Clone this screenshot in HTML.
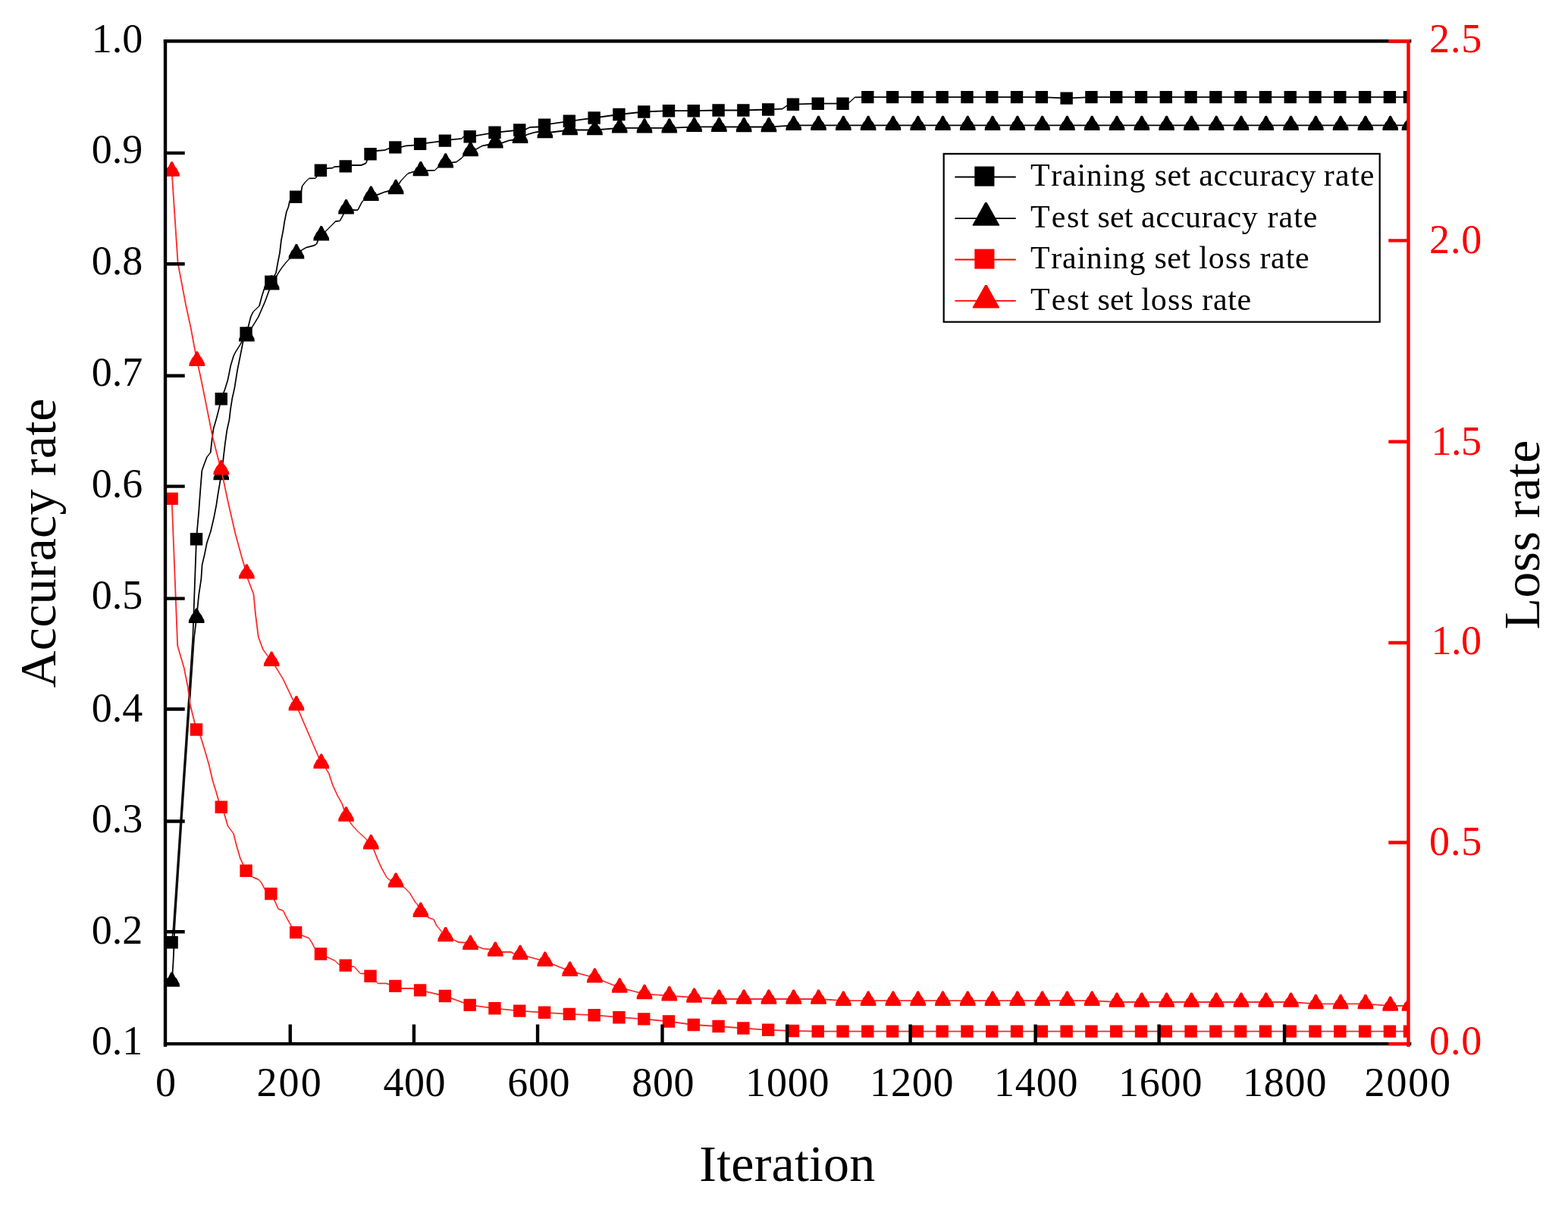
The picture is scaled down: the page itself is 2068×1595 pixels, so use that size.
<!DOCTYPE html>
<html lang="en">
<head>
<meta charset="utf-8">
<title>Accuracy rate and loss rate versus iteration</title>
<style>
html,body{margin:0;padding:0;background:#fff;}
body{width:2068px;height:1595px;overflow:hidden;}
svg{display:block;}
</style>
</head>
<body>
<svg width="2068" height="1595" viewBox="0 0 2068 1595" role="img" aria-label="Accuracy rate and loss rate versus iteration">
<defs><clipPath id="c"><rect x="218" y="54.2" width="1639.5" height="1322.9"/></clipPath></defs>
<rect width="2068" height="1595" fill="#fff"/>
<g clip-path="url(#c)">
<path d="M227.85 1223L229.6 1223L227.47 1243.2L225.72 1243.2zM240.46 1034L242.21 1034L229.6 1223L227.85 1223zM253.5 840L255.25 840L242.21 1034L240.46 1034zM258.11 711.2L259.86 711.2L255.25 840L253.5 840zM261.32 675L263.07 675L259.86 711.2L258.11 711.2zM263.12 650L264.88 650L263.07 675L261.32 675zM265.43 621L267.18 621L264.88 650L263.12 650zM268.23 613L269.98 613L267.18 621L265.43 621zM272.02 603L273.77 603L269.98 613L268.23 613zM276.82 597L278.57 597L273.77 603L272.02 603zM278.93 577.7L280.68 577.7L278.57 597L276.82 597zM280.82 565L282.57 565L280.68 577.7L278.93 577.7zM284.52 552.6L286.27 552.6L282.57 565L280.82 565zM287.73 540L289.48 540L286.27 552.6L284.52 552.6zM290.9 526.3L292.65 526.3L289.48 540L287.73 540zM295.82 513.4L297.57 513.4L292.65 526.3L290.9 526.3zM299.62 501L301.38 501L297.57 513.4L295.82 513.4zM303.43 482L305.18 482L301.38 501L299.62 501zM307.23 469.4L308.98 469.4L305.18 482L303.43 482zM309.73 464.4L311.48 464.4L308.98 469.4L307.23 469.4zM316.02 454.4L317.77 454.4L311.48 464.4L309.73 464.4zM323.69 439.5L325.44 439.5L317.77 454.4L316.02 454.4zM326.62 430.8L328.38 430.8L325.44 439.5L323.69 439.5zM329.82 418L331.57 418L328.38 430.8L326.62 430.8zM332.93 411.6L334.68 411.6L331.57 418L329.82 418zM341.12 403.4L342.88 403.4L334.68 411.6L332.93 411.6zM344.32 391.5L346.07 391.5L342.88 403.4L341.12 403.4zM347.43 381.4L349.18 381.4L346.07 391.5L344.32 391.5zM356.48 371.7L358.23 371.7L349.18 381.4L347.43 381.4zM363.12 360L364.88 360L358.23 371.7L356.48 371.7zM365.62 346L367.38 346L364.88 360L363.12 360zM368.12 333.5L369.88 333.5L367.38 346L365.62 346zM370.02 317L371.77 317L369.88 333.5L368.12 333.5zM372.52 304.6L374.27 304.6L371.77 317L370.02 317zM374.43 292L376.18 292L374.27 304.6L372.52 304.6zM376.93 279.4L378.68 279.4L376.18 292L374.43 292zM379.52 273L381.27 273L378.68 279.4L376.93 279.4zM381.32 264.4L383.07 264.4L381.27 273L379.52 273zM382.2 263.52L390.15 258.93L390.15 260.68L382.2 265.27zM396.43 252.4L398.18 252.4L391.02 259.8L389.27 259.8zM397.73 245.5L399.48 245.5L398.18 252.4L396.43 252.4zM401.52 240.5L403.27 240.5L399.48 245.5L397.73 245.5zM406.52 235.4L408.27 235.4L403.27 240.5L401.52 240.5zM407.4 234.53L416.2 234.32L416.2 236.07L407.4 236.28zM422.06 224.7L423.81 224.7L417.07 235.2L415.32 235.2zM422.94 223.82L431 221.32L431 223.07L422.94 225.57zM431 221.32L438.8 220.72L438.8 222.47L431 223.07zM438.8 220.72L440.7 219.22L440.7 220.97L438.8 222.47zM440.7 219.22L448.2 218.82L448.2 220.57L440.7 220.97zM448.2 218.82L455.73 218.53L455.73 220.28L448.2 220.57zM455.73 218.53L463 217.12L463 218.88L455.73 220.28zM463 217.12L476.3 217.12L476.3 218.88L463 218.88zM476.3 217.12L482.6 214.62L482.6 216.38L476.3 218.88zM483.62 210.5L485.38 210.5L483.48 215.5L481.73 215.5zM487.64 203.2L489.39 203.2L485.38 210.5L483.62 210.5zM488.52 202.32L495.8 198.12L495.8 199.88L488.52 204.07zM495.8 198.12L507.1 197.32L507.1 199.07L495.8 199.88zM507.1 197.32L514.1 194.53L514.1 196.28L507.1 199.07zM514.1 194.53L521.31 193.53L521.31 195.28L514.1 196.28zM521.31 193.53L528.5 193.32L528.5 195.07L521.31 195.28zM528.5 193.32L535.4 191.43L535.4 193.18L528.5 195.07zM535.4 191.43L546.1 190.82L546.1 192.57L535.4 193.18zM546.1 190.82L554.1 189.03L554.1 190.78L546.1 192.57zM554.1 189.03L586.89 184.72L586.89 186.47L554.1 190.78zM586.89 184.72L596 183.22L596 184.97L586.89 186.47zM596 183.22L609 182.03L609 183.78L596 184.97zM610.33 180.3L612.08 180.3L609.88 182.9L608.12 182.9zM611.2 179.43L619.68 179.43L619.68 181.18L611.2 181.18zM619.68 179.43L652.47 173.93L652.47 175.68L619.68 181.18zM652.47 173.93L685.26 170.62L685.26 172.38L652.47 175.68zM685.26 170.62L693.8 169.43L693.8 171.18L685.26 172.38zM693.8 169.43L698.9 166.93L698.9 168.68L693.8 171.18zM698.9 166.93L709.2 166.62L709.2 168.38L698.9 168.68zM709.2 166.62L718.05 163.82L718.05 165.57L709.2 168.38zM718.05 163.82L750.84 158.93L750.84 160.68L718.05 165.57zM750.84 158.93L783.63 154.62L783.63 156.38L750.84 160.68zM783.63 154.62L816.42 150.12L816.42 151.88L783.63 156.38zM816.42 150.12L849.21 146.62L849.21 148.38L816.42 151.88zM849.21 146.62L882 145.32L882 147.07L849.21 148.38zM882 145.32L914.79 145.32L914.79 147.07L882 147.07zM914.79 145.32L947.58 144.62L947.58 146.38L914.79 147.07zM947.58 144.62L980.37 144.62L980.37 146.38L947.58 146.38zM980.37 144.62L1013.16 143.62L1013.16 145.38L980.37 146.38zM1013.16 143.62L1031.9 142.82L1031.9 144.57L1013.16 145.38zM1031.9 142.82L1038.2 138.32L1038.2 140.07L1031.9 144.57zM1038.2 138.32L1045.95 136.82L1045.95 138.57L1038.2 140.07zM1045.95 136.82L1078.74 135.82L1078.74 137.57L1045.95 138.57zM1078.74 135.82L1111.53 135.82L1111.53 137.57L1078.74 137.57zM1111.53 135.82L1119.9 134.53L1119.9 136.28L1111.53 137.57zM1119.9 134.53L1127.5 127.53L1127.5 129.28L1119.9 136.28zM1127.5 127.53L1144.32 127.22L1144.32 128.97L1127.5 129.28zM1144.32 127.22L1177.11 127.22L1177.11 128.97L1144.32 128.97zM1177.11 127.22L1209.9 127.22L1209.9 128.97L1177.11 128.97zM1209.9 127.22L1242.69 127.22L1242.69 128.97L1209.9 128.97zM1242.69 127.22L1275.48 127.22L1275.48 128.97L1242.69 128.97zM1275.48 127.22L1308.27 127.22L1308.27 128.97L1275.48 128.97zM1308.27 127.22L1341.06 127.22L1341.06 128.97L1308.27 128.97zM1341.06 127.22L1373.85 127.22L1373.85 128.97L1341.06 128.97zM1373.85 127.22L1406.64 128.72L1406.64 130.47L1373.85 128.97zM1406.64 128.72L1439.43 127.22L1439.43 128.97L1406.64 130.47zM1439.43 127.22L1472.22 127.22L1472.22 128.97L1439.43 128.97zM1472.22 127.22L1505.01 127.22L1505.01 128.97L1472.22 128.97zM1505.01 127.22L1537.8 127.22L1537.8 128.97L1505.01 128.97zM1537.8 127.22L1570.59 127.22L1570.59 128.97L1537.8 128.97zM1570.59 127.22L1603.38 127.22L1603.38 128.97L1570.59 128.97zM1603.38 127.22L1636.17 127.22L1636.17 128.97L1603.38 128.97zM1636.17 127.22L1668.96 127.22L1668.96 128.97L1636.17 128.97zM1668.96 127.22L1701.75 127.22L1701.75 128.97L1668.96 128.97zM1701.75 127.22L1734.54 127.22L1734.54 128.97L1701.75 128.97zM1734.54 127.22L1767.33 127.22L1767.33 128.97L1734.54 128.97zM1767.33 127.22L1800.12 127.22L1800.12 128.97L1767.33 128.97zM1800.12 127.22L1832.91 127.22L1832.91 128.97L1800.12 128.97zM1832.91 127.22L1859 127.22L1859 128.97L1832.91 128.97z" fill="#000"/>
<path d="M218.4 1235h16.4v16.4h-16.4zM250.79 703h16.4v16.4h-16.4zM283.58 518.1h16.4v16.4h-16.4zM316.37 431.3h16.4v16.4h-16.4zM349.16 363.5h16.4v16.4h-16.4zM381.95 251.6h16.4v16.4h-16.4zM414.74 216.5h16.4v16.4h-16.4zM447.53 211.2h16.4v16.4h-16.4zM480.32 195h16.4v16.4h-16.4zM513.11 186.2h16.4v16.4h-16.4zM545.9 181.7h16.4v16.4h-16.4zM578.69 177.4h16.4v16.4h-16.4zM611.48 172.1h16.4v16.4h-16.4zM644.27 166.6h16.4v16.4h-16.4zM677.06 163.3h16.4v16.4h-16.4zM709.85 156.5h16.4v16.4h-16.4zM742.64 151.6h16.4v16.4h-16.4zM775.43 147.3h16.4v16.4h-16.4zM808.22 142.8h16.4v16.4h-16.4zM841.01 139.3h16.4v16.4h-16.4zM873.8 138h16.4v16.4h-16.4zM906.59 138h16.4v16.4h-16.4zM939.38 137.3h16.4v16.4h-16.4zM972.17 137.3h16.4v16.4h-16.4zM1004.96 136.3h16.4v16.4h-16.4zM1037.75 129.5h16.4v16.4h-16.4zM1070.54 128.5h16.4v16.4h-16.4zM1103.33 128.5h16.4v16.4h-16.4zM1136.12 119.9h16.4v16.4h-16.4zM1168.91 119.9h16.4v16.4h-16.4zM1201.7 119.9h16.4v16.4h-16.4zM1234.49 119.9h16.4v16.4h-16.4zM1267.28 119.9h16.4v16.4h-16.4zM1300.07 119.9h16.4v16.4h-16.4zM1332.86 119.9h16.4v16.4h-16.4zM1365.65 119.9h16.4v16.4h-16.4zM1398.44 121.4h16.4v16.4h-16.4zM1431.23 119.9h16.4v16.4h-16.4zM1464.02 119.9h16.4v16.4h-16.4zM1496.81 119.9h16.4v16.4h-16.4zM1529.6 119.9h16.4v16.4h-16.4zM1562.39 119.9h16.4v16.4h-16.4zM1595.18 119.9h16.4v16.4h-16.4zM1627.97 119.9h16.4v16.4h-16.4zM1660.76 119.9h16.4v16.4h-16.4zM1693.55 119.9h16.4v16.4h-16.4zM1726.34 119.9h16.4v16.4h-16.4zM1759.13 119.9h16.4v16.4h-16.4zM1791.92 119.9h16.4v16.4h-16.4zM1824.71 119.9h16.4v16.4h-16.4zM1850.8 119.9h16.4v16.4h-16.4z" fill="#000"/>
<path d="M226.72 1283L228.47 1283L227.47 1295L225.72 1295zM227.72 1267L229.47 1267L228.47 1283L226.72 1283zM228.62 1247L230.38 1247L229.47 1267L227.72 1267zM229.43 1223L231.18 1223L230.38 1247L228.62 1247zM242.03 1034L243.78 1034L231.18 1223L229.43 1223zM255.07 842L256.82 842L243.78 1034L242.03 1034zM258.31 815.2L260.06 815.2L256.82 842L255.07 842zM261.32 785L263.07 785L260.06 815.2L258.31 815.2zM264.43 764L266.18 764L263.07 785L261.32 785zM265.73 745L267.48 745L266.18 764L264.43 764zM268.82 732L270.57 732L267.48 745L265.73 745zM272.02 716L273.77 716L270.57 732L268.82 732zM277.02 701L278.77 701L273.77 716L272.02 716zM281.43 682L283.18 682L278.77 701L277.02 701zM284.52 666L286.27 666L283.18 682L281.43 682zM286.43 653L288.18 653L286.27 666L284.52 666zM290.9 626.4L292.65 626.4L288.18 653L286.43 653zM293.32 608L295.07 608L292.65 626.4L290.9 626.4zM295.82 586.5L297.57 586.5L295.07 608L293.32 608zM298.43 567.7L300.18 567.7L297.57 586.5L295.82 586.5zM301.52 553.8L303.27 553.8L300.18 567.7L298.43 567.7zM303.12 540L304.88 540L303.27 553.8L301.52 553.8zM305.32 526L307.07 526L304.88 540L303.12 540zM308.43 512L310.18 512L307.07 526L305.32 526zM312.23 488.3L313.98 488.3L310.18 512L308.43 512zM316.02 469.4L317.77 469.4L313.98 488.3L312.23 488.3zM319.73 450.6L321.48 450.6L317.77 469.4L316.02 469.4zM324.49 443.6L326.24 443.6L321.48 450.6L319.73 450.6zM332.32 430.5L334.07 430.5L326.24 443.6L324.49 443.6zM339.93 417.9L341.68 417.9L334.07 430.5L332.32 430.5zM344.93 406.6L346.68 406.6L341.68 417.9L339.93 417.9zM348.73 397.8L350.48 397.8L346.68 406.6L344.93 406.6zM353.73 384L355.48 384L350.48 397.8L348.73 397.8zM357.28 375.7L359.03 375.7L355.48 384L353.73 384zM366.32 360L368.07 360L359.03 375.7L357.28 375.7zM371.32 352.4L373.07 352.4L368.07 360L366.32 360zM377.62 344.8L379.38 344.8L373.07 352.4L371.32 352.4zM381.32 341L383.07 341L379.38 344.8L377.62 344.8zM382.2 340.12L390.95 333.73L390.95 335.48L382.2 341.88zM390.95 333.73L397.3 329.52L397.3 331.27L390.95 335.48zM397.3 329.52L403.6 325.73L403.6 327.48L397.3 331.27zM403.6 325.73L413.7 323.12L413.7 324.88L403.6 327.48zM413.7 323.12L417.4 321.32L417.4 323.07L413.7 324.88zM418.43 317.2L420.18 317.2L418.27 322.2L416.52 322.2zM422.86 310.7L424.61 310.7L420.18 317.2L418.43 317.2zM423.74 309.82L430 303.73L430 305.48L423.74 311.57zM430 303.73L436.3 297.43L436.3 299.18L430 305.48zM436.3 297.43L442.6 291.12L442.6 292.88L436.3 299.18zM442.6 291.12L448.2 290.52L448.2 292.27L442.6 292.88zM450.52 285.7L452.27 285.7L449.07 291.4L447.32 291.4zM455.65 275.7L457.4 275.7L452.27 285.7L450.52 285.7zM456.53 274.82L467.5 276.32L467.5 278.07L456.53 276.57zM467.5 276.32L472 276.12L472 277.88L467.5 278.07zM475.43 268.4L477.18 268.4L472.88 277L471.12 277zM478.02 264.6L479.77 264.6L477.18 268.4L475.43 268.4zM478.9 263.73L489.32 257.32L489.32 259.07L478.9 265.48zM489.32 257.32L497.7 256.12L497.7 257.88L489.32 259.07zM497.7 256.12L507.1 252.43L507.1 254.18L497.7 257.88zM507.1 252.43L512.8 251.12L512.8 252.88L507.1 254.18zM512.8 251.12L522.11 248.53L522.11 250.28L512.8 252.88zM527.62 238.8L529.38 238.8L522.98 249.4L521.23 249.4zM537.12 228.8L538.88 228.8L529.38 238.8L527.62 238.8zM538 227.93L546.8 225.32L546.8 227.07L538 229.68zM546.8 225.32L554.9 224.62L554.9 226.38L546.8 227.07zM554.9 224.62L563.1 224.12L563.1 225.88L554.9 226.38zM563.1 224.12L573.8 223.72L573.8 225.47L563.1 225.88zM576.73 220.6L578.48 220.6L574.67 224.6L572.92 224.6zM577.6 219.72L587.69 213.93L587.69 215.68L577.6 221.47zM587.69 213.93L597 213.43L597 215.18L587.69 215.68zM597 213.43L602 212.82L602 214.57L597 215.18zM602 212.82L609.6 207.12L609.6 208.88L602 214.57zM611.23 204.2L612.98 204.2L610.48 208L608.73 208zM612.1 203.32L620.48 198.62L620.48 200.38L612.1 205.07zM620.48 198.62L628.5 195.82L628.5 197.57L620.48 200.38zM628.5 195.82L636 191.43L636 193.18L628.5 197.57zM636 191.43L643.6 190.12L643.6 191.88L636 193.18zM643.6 190.12L653.27 187.72L653.27 189.47L643.6 191.88zM653.27 187.72L662.4 187.62L662.4 189.38L653.27 189.47zM662.4 187.62L671.2 184.53L671.2 186.28L662.4 189.38zM671.2 184.53L676.2 183.82L676.2 185.57L671.2 186.28zM676.2 183.82L686.06 181.22L686.06 182.97L676.2 185.57zM686.06 181.22L696.4 176.32L696.4 178.07L686.06 182.97zM696.4 176.32L705.2 173.82L705.2 175.57L696.4 178.07zM705.2 173.82L709.6 173.12L709.6 174.88L705.2 175.57zM709.6 173.12L718.85 174.62L718.85 176.38L709.6 174.88zM718.85 174.62L751.64 170.62L751.64 172.38L718.85 176.38zM751.64 170.62L784.43 170.62L784.43 172.38L751.64 172.38zM784.43 170.62L817.22 167.93L817.22 169.68L784.43 172.38zM817.22 167.93L850.01 167.93L850.01 169.68L817.22 169.68zM850.01 167.93L882.8 167.93L882.8 169.68L850.01 169.68zM882.8 167.93L915.59 166.43L915.59 168.18L882.8 169.68zM915.59 166.43L948.38 166.43L948.38 168.18L915.59 168.18zM948.38 166.43L981.17 166.62L981.17 168.38L948.38 168.18zM981.17 166.62L1013.96 166.62L1013.96 168.38L981.17 168.38zM1013.96 166.62L1046.75 164.43L1046.75 166.18L1013.96 168.38zM1046.75 164.43L1079.54 164.43L1079.54 166.18L1046.75 166.18zM1079.54 164.43L1112.33 164.43L1112.33 166.18L1079.54 166.18zM1112.33 164.43L1145.12 164.43L1145.12 166.18L1112.33 166.18zM1145.12 164.43L1177.91 164.43L1177.91 166.18L1145.12 166.18zM1177.91 164.43L1210.7 164.43L1210.7 166.18L1177.91 166.18zM1210.7 164.43L1243.49 164.43L1243.49 166.18L1210.7 166.18zM1243.49 164.43L1276.28 164.43L1276.28 166.18L1243.49 166.18zM1276.28 164.43L1309.07 164.43L1309.07 166.18L1276.28 166.18zM1309.07 164.43L1341.86 164.43L1341.86 166.18L1309.07 166.18zM1341.86 164.43L1374.65 164.43L1374.65 166.18L1341.86 166.18zM1374.65 164.43L1407.44 164.43L1407.44 166.18L1374.65 166.18zM1407.44 164.43L1440.23 164.43L1440.23 166.18L1407.44 166.18zM1440.23 164.43L1473.02 164.43L1473.02 166.18L1440.23 166.18zM1473.02 164.43L1505.81 164.43L1505.81 166.18L1473.02 166.18zM1505.81 164.43L1538.6 164.43L1538.6 166.18L1505.81 166.18zM1538.6 164.43L1571.39 164.43L1571.39 166.18L1538.6 166.18zM1571.39 164.43L1604.18 164.43L1604.18 166.18L1571.39 166.18zM1604.18 164.43L1636.97 164.43L1636.97 166.18L1604.18 166.18zM1636.97 164.43L1669.76 164.43L1669.76 166.18L1636.97 166.18zM1669.76 164.43L1702.55 164.43L1702.55 166.18L1669.76 166.18zM1702.55 164.43L1735.34 164.43L1735.34 166.18L1702.55 166.18zM1735.34 164.43L1768.13 164.43L1768.13 166.18L1735.34 166.18zM1768.13 164.43L1800.92 164.43L1800.92 166.18L1768.13 166.18zM1800.92 164.43L1833.71 164.43L1833.71 166.18L1800.92 166.18zM1833.71 164.43L1859 164.43L1859 166.18L1833.71 166.18z" fill="#000"/>
<path d="M225.5 1282.4L227.7 1282.4L228.9 1284.6L231 1288.9L233.1 1291.1L235.2 1295.3L236.7 1297.8L237 1301.8L216.2 1301.8L216.5 1297.8L218 1295.3L220.1 1291.1L222.2 1288.9L224.3 1284.6zM258.09 802.6L260.29 802.6L261.49 804.8L263.59 809.1L265.69 811.3L267.79 815.5L269.29 818L269.59 822L248.79 822L249.09 818L250.59 815.5L252.69 811.3L254.79 809.1L256.89 804.8zM290.68 613.8L292.88 613.8L294.08 616L296.18 620.3L298.28 622.5L300.38 626.7L301.88 629.2L302.18 633.2L281.38 633.2L281.68 629.2L283.18 626.7L285.28 622.5L287.38 620.3L289.48 616zM324.27 431L326.47 431L327.67 433.2L329.77 437.5L331.87 439.7L333.97 443.9L335.47 446.4L335.77 450.4L314.97 450.4L315.27 446.4L316.77 443.9L318.87 439.7L320.97 437.5L323.07 433.2zM357.06 363.1L359.26 363.1L360.46 365.3L362.56 369.6L364.66 371.8L366.76 376L368.26 378.5L368.56 382.5L347.76 382.5L348.06 378.5L349.56 376L351.66 371.8L353.76 369.6L355.86 365.3zM389.85 322L392.05 322L393.25 324.2L395.35 328.5L397.45 330.7L399.55 334.9L401.05 337.4L401.35 341.4L380.55 341.4L380.85 337.4L382.35 334.9L384.45 330.7L386.55 328.5L388.65 324.2zM422.64 298.1L424.84 298.1L426.04 300.3L428.14 304.6L430.24 306.8L432.34 311L433.84 313.5L434.14 317.5L413.34 317.5L413.64 313.5L415.14 311L417.24 306.8L419.34 304.6L421.44 300.3zM455.43 263.1L457.63 263.1L458.83 265.3L460.93 269.6L463.03 271.8L465.13 276L466.63 278.5L466.93 282.5L446.13 282.5L446.43 278.5L447.93 276L450.03 271.8L452.13 269.6L454.23 265.3zM488.22 245.6L490.42 245.6L491.62 247.8L493.72 252.1L495.82 254.3L497.92 258.5L499.42 261L499.72 265L478.92 265L479.22 261L480.72 258.5L482.82 254.3L484.92 252.1L487.02 247.8zM521.01 236.8L523.21 236.8L524.41 239L526.51 243.3L528.61 245.5L530.71 249.7L532.21 252.2L532.51 256.2L511.71 256.2L512.01 252.2L513.51 249.7L515.61 245.5L517.71 243.3L519.81 239zM553.8 212.9L556 212.9L557.2 215.1L559.3 219.4L561.4 221.6L563.5 225.8L565 228.3L565.3 232.3L544.5 232.3L544.8 228.3L546.3 225.8L548.4 221.6L550.5 219.4L552.6 215.1zM586.59 202.2L588.79 202.2L589.99 204.4L592.09 208.7L594.19 210.9L596.29 215.1L597.79 217.6L598.09 221.6L577.29 221.6L577.59 217.6L579.09 215.1L581.19 210.9L583.29 208.7L585.39 204.4zM619.38 186.9L621.58 186.9L622.78 189.1L624.88 193.4L626.98 195.6L629.08 199.8L630.58 202.3L630.88 206.3L610.08 206.3L610.38 202.3L611.88 199.8L613.98 195.6L616.08 193.4L618.18 189.1zM652.17 176L654.37 176L655.57 178.2L657.67 182.5L659.77 184.7L661.87 188.9L663.37 191.4L663.67 195.4L642.87 195.4L643.17 191.4L644.67 188.9L646.77 184.7L648.87 182.5L650.97 178.2zM684.96 169.5L687.16 169.5L688.36 171.7L690.46 176L692.56 178.2L694.66 182.4L696.16 184.9L696.46 188.9L675.66 188.9L675.96 184.9L677.46 182.4L679.56 178.2L681.66 176L683.76 171.7zM717.75 162.9L719.95 162.9L721.15 165.1L723.25 169.4L725.35 171.6L727.45 175.8L728.95 178.3L729.25 182.3L708.45 182.3L708.75 178.3L710.25 175.8L712.35 171.6L714.45 169.4L716.55 165.1zM750.54 158.9L752.74 158.9L753.94 161.1L756.04 165.4L758.14 167.6L760.24 171.8L761.74 174.3L762.04 178.3L741.24 178.3L741.54 174.3L743.04 171.8L745.14 167.6L747.24 165.4L749.34 161.1zM783.33 158.9L785.53 158.9L786.73 161.1L788.83 165.4L790.93 167.6L793.03 171.8L794.53 174.3L794.83 178.3L774.03 178.3L774.33 174.3L775.83 171.8L777.93 167.6L780.03 165.4L782.13 161.1zM816.12 156.2L818.32 156.2L819.52 158.4L821.62 162.7L823.72 164.9L825.82 169.1L827.32 171.6L827.62 175.6L806.82 175.6L807.12 171.6L808.62 169.1L810.72 164.9L812.82 162.7L814.92 158.4zM848.91 156.2L851.11 156.2L852.31 158.4L854.41 162.7L856.51 164.9L858.61 169.1L860.11 171.6L860.41 175.6L839.61 175.6L839.91 171.6L841.41 169.1L843.51 164.9L845.61 162.7L847.71 158.4zM881.7 156.2L883.9 156.2L885.1 158.4L887.2 162.7L889.3 164.9L891.4 169.1L892.9 171.6L893.2 175.6L872.4 175.6L872.7 171.6L874.2 169.1L876.3 164.9L878.4 162.7L880.5 158.4zM914.49 154.7L916.69 154.7L917.89 156.9L919.99 161.2L922.09 163.4L924.19 167.6L925.69 170.1L925.99 174.1L905.19 174.1L905.49 170.1L906.99 167.6L909.09 163.4L911.19 161.2L913.29 156.9zM947.28 154.7L949.48 154.7L950.68 156.9L952.78 161.2L954.88 163.4L956.98 167.6L958.48 170.1L958.78 174.1L937.98 174.1L938.28 170.1L939.78 167.6L941.88 163.4L943.98 161.2L946.08 156.9zM980.07 154.9L982.27 154.9L983.47 157.1L985.57 161.4L987.67 163.6L989.77 167.8L991.27 170.3L991.57 174.3L970.77 174.3L971.07 170.3L972.57 167.8L974.67 163.6L976.77 161.4L978.87 157.1zM1012.86 154.9L1015.06 154.9L1016.26 157.1L1018.36 161.4L1020.46 163.6L1022.56 167.8L1024.06 170.3L1024.36 174.3L1003.56 174.3L1003.86 170.3L1005.36 167.8L1007.46 163.6L1009.56 161.4L1011.66 157.1zM1045.65 152.7L1047.85 152.7L1049.05 154.9L1051.15 159.2L1053.25 161.4L1055.35 165.6L1056.85 168.1L1057.15 172.1L1036.35 172.1L1036.65 168.1L1038.15 165.6L1040.25 161.4L1042.35 159.2L1044.45 154.9zM1078.44 152.7L1080.64 152.7L1081.84 154.9L1083.94 159.2L1086.04 161.4L1088.14 165.6L1089.64 168.1L1089.94 172.1L1069.14 172.1L1069.44 168.1L1070.94 165.6L1073.04 161.4L1075.14 159.2L1077.24 154.9zM1111.23 152.7L1113.43 152.7L1114.63 154.9L1116.73 159.2L1118.83 161.4L1120.93 165.6L1122.43 168.1L1122.73 172.1L1101.93 172.1L1102.23 168.1L1103.73 165.6L1105.83 161.4L1107.93 159.2L1110.03 154.9zM1144.02 152.7L1146.22 152.7L1147.42 154.9L1149.52 159.2L1151.62 161.4L1153.72 165.6L1155.22 168.1L1155.52 172.1L1134.72 172.1L1135.02 168.1L1136.52 165.6L1138.62 161.4L1140.72 159.2L1142.82 154.9zM1176.81 152.7L1179.01 152.7L1180.21 154.9L1182.31 159.2L1184.41 161.4L1186.51 165.6L1188.01 168.1L1188.31 172.1L1167.51 172.1L1167.81 168.1L1169.31 165.6L1171.41 161.4L1173.51 159.2L1175.61 154.9zM1209.6 152.7L1211.8 152.7L1213 154.9L1215.1 159.2L1217.2 161.4L1219.3 165.6L1220.8 168.1L1221.1 172.1L1200.3 172.1L1200.6 168.1L1202.1 165.6L1204.2 161.4L1206.3 159.2L1208.4 154.9zM1242.39 152.7L1244.59 152.7L1245.79 154.9L1247.89 159.2L1249.99 161.4L1252.09 165.6L1253.59 168.1L1253.89 172.1L1233.09 172.1L1233.39 168.1L1234.89 165.6L1236.99 161.4L1239.09 159.2L1241.19 154.9zM1275.18 152.7L1277.38 152.7L1278.58 154.9L1280.68 159.2L1282.78 161.4L1284.88 165.6L1286.38 168.1L1286.68 172.1L1265.88 172.1L1266.18 168.1L1267.68 165.6L1269.78 161.4L1271.88 159.2L1273.98 154.9zM1307.97 152.7L1310.17 152.7L1311.37 154.9L1313.47 159.2L1315.57 161.4L1317.67 165.6L1319.17 168.1L1319.47 172.1L1298.67 172.1L1298.97 168.1L1300.47 165.6L1302.57 161.4L1304.67 159.2L1306.77 154.9zM1340.76 152.7L1342.96 152.7L1344.16 154.9L1346.26 159.2L1348.36 161.4L1350.46 165.6L1351.96 168.1L1352.26 172.1L1331.46 172.1L1331.76 168.1L1333.26 165.6L1335.36 161.4L1337.46 159.2L1339.56 154.9zM1373.55 152.7L1375.75 152.7L1376.95 154.9L1379.05 159.2L1381.15 161.4L1383.25 165.6L1384.75 168.1L1385.05 172.1L1364.25 172.1L1364.55 168.1L1366.05 165.6L1368.15 161.4L1370.25 159.2L1372.35 154.9zM1406.34 152.7L1408.54 152.7L1409.74 154.9L1411.84 159.2L1413.94 161.4L1416.04 165.6L1417.54 168.1L1417.84 172.1L1397.04 172.1L1397.34 168.1L1398.84 165.6L1400.94 161.4L1403.04 159.2L1405.14 154.9zM1439.13 152.7L1441.33 152.7L1442.53 154.9L1444.63 159.2L1446.73 161.4L1448.83 165.6L1450.33 168.1L1450.63 172.1L1429.83 172.1L1430.13 168.1L1431.63 165.6L1433.73 161.4L1435.83 159.2L1437.93 154.9zM1471.92 152.7L1474.12 152.7L1475.32 154.9L1477.42 159.2L1479.52 161.4L1481.62 165.6L1483.12 168.1L1483.42 172.1L1462.62 172.1L1462.92 168.1L1464.42 165.6L1466.52 161.4L1468.62 159.2L1470.72 154.9zM1504.71 152.7L1506.91 152.7L1508.11 154.9L1510.21 159.2L1512.31 161.4L1514.41 165.6L1515.91 168.1L1516.21 172.1L1495.41 172.1L1495.71 168.1L1497.21 165.6L1499.31 161.4L1501.41 159.2L1503.51 154.9zM1537.5 152.7L1539.7 152.7L1540.9 154.9L1543 159.2L1545.1 161.4L1547.2 165.6L1548.7 168.1L1549 172.1L1528.2 172.1L1528.5 168.1L1530 165.6L1532.1 161.4L1534.2 159.2L1536.3 154.9zM1570.29 152.7L1572.49 152.7L1573.69 154.9L1575.79 159.2L1577.89 161.4L1579.99 165.6L1581.49 168.1L1581.79 172.1L1560.99 172.1L1561.29 168.1L1562.79 165.6L1564.89 161.4L1566.99 159.2L1569.09 154.9zM1603.08 152.7L1605.28 152.7L1606.48 154.9L1608.58 159.2L1610.68 161.4L1612.78 165.6L1614.28 168.1L1614.58 172.1L1593.78 172.1L1594.08 168.1L1595.58 165.6L1597.68 161.4L1599.78 159.2L1601.88 154.9zM1635.87 152.7L1638.07 152.7L1639.27 154.9L1641.37 159.2L1643.47 161.4L1645.57 165.6L1647.07 168.1L1647.37 172.1L1626.57 172.1L1626.87 168.1L1628.37 165.6L1630.47 161.4L1632.57 159.2L1634.67 154.9zM1668.66 152.7L1670.86 152.7L1672.06 154.9L1674.16 159.2L1676.26 161.4L1678.36 165.6L1679.86 168.1L1680.16 172.1L1659.36 172.1L1659.66 168.1L1661.16 165.6L1663.26 161.4L1665.36 159.2L1667.46 154.9zM1701.45 152.7L1703.65 152.7L1704.85 154.9L1706.95 159.2L1709.05 161.4L1711.15 165.6L1712.65 168.1L1712.95 172.1L1692.15 172.1L1692.45 168.1L1693.95 165.6L1696.05 161.4L1698.15 159.2L1700.25 154.9zM1734.24 152.7L1736.44 152.7L1737.64 154.9L1739.74 159.2L1741.84 161.4L1743.94 165.6L1745.44 168.1L1745.74 172.1L1724.94 172.1L1725.24 168.1L1726.74 165.6L1728.84 161.4L1730.94 159.2L1733.04 154.9zM1767.03 152.7L1769.23 152.7L1770.43 154.9L1772.53 159.2L1774.63 161.4L1776.73 165.6L1778.23 168.1L1778.53 172.1L1757.73 172.1L1758.03 168.1L1759.53 165.6L1761.63 161.4L1763.73 159.2L1765.83 154.9zM1799.82 152.7L1802.02 152.7L1803.22 154.9L1805.32 159.2L1807.42 161.4L1809.52 165.6L1811.02 168.1L1811.32 172.1L1790.52 172.1L1790.82 168.1L1792.32 165.6L1794.42 161.4L1796.52 159.2L1798.62 154.9zM1832.61 152.7L1834.81 152.7L1836.01 154.9L1838.11 159.2L1840.21 161.4L1842.31 165.6L1843.81 168.1L1844.11 172.1L1823.31 172.1L1823.61 168.1L1825.11 165.6L1827.21 161.4L1829.31 159.2L1831.41 154.9zM1857.9 152.7L1860.1 152.7L1861.3 154.9L1863.4 159.2L1865.5 161.4L1867.6 165.6L1869.1 168.1L1869.4 172.1L1848.6 172.1L1848.9 168.1L1850.4 165.6L1852.5 161.4L1854.6 159.2L1856.7 154.9z" fill="#000"/>
<path d="M225.67 657.9L227.52 657.9L235.12 852L233.27 852zM233.27 852L235.12 852L243.62 881L241.77 881zM241.77 881L243.62 881L248.62 906L246.77 906zM246.77 906L248.62 906L251.83 930L249.97 930zM249.97 930L251.83 930L259.91 962.5L258.06 962.5zM258.06 962.5L259.91 962.5L264.93 970L263.07 970zM263.07 970L264.93 970L271.23 990.4L269.38 990.4zM269.38 990.4L271.23 990.4L276.32 1008L274.47 1008zM274.47 1008L276.32 1008L281.32 1029.4L279.47 1029.4zM279.47 1029.4L281.32 1029.4L286.32 1045.7L284.47 1045.7zM284.47 1045.7L286.32 1045.7L289.53 1057.3L287.68 1057.3zM287.68 1057.3L289.53 1057.3L292.7 1064.7L290.85 1064.7zM290.85 1064.7L292.7 1064.7L296.43 1072.8L294.57 1072.8zM294.57 1072.8L296.43 1072.8L301.43 1089.7L299.57 1089.7zM299.57 1089.7L301.43 1089.7L308.93 1099.8L307.07 1099.8zM307.07 1099.8L308.93 1099.8L312.73 1115L310.88 1115zM310.88 1115L312.73 1115L317.82 1132.6L315.97 1132.6zM315.97 1132.6L317.82 1132.6L325.49 1148.7L323.64 1148.7zM323.64 1148.7L325.49 1148.7L333.62 1157L331.77 1157zM332.7 1156.08L341.4 1159.58L341.4 1161.42L332.7 1157.92zM340.47 1160.5L342.32 1160.5L345.93 1165L344.07 1165zM344.07 1165L345.93 1165L351.12 1175L349.27 1175zM350.2 1174.08L357.36 1178.17L357.36 1180.02L350.2 1175.92zM356.43 1179.1L358.28 1179.1L363.03 1188L361.18 1188zM361.18 1188L363.03 1188L368.12 1199.3L366.27 1199.3zM367.2 1198.38L373.4 1200.28L373.4 1202.12L367.2 1200.22zM372.47 1201.2L374.32 1201.2L378.12 1209.3L376.27 1209.3zM376.27 1209.3L378.12 1209.3L384.43 1220.6L382.57 1220.6zM382.57 1220.6L384.43 1220.6L391.07 1230.1L389.22 1230.1zM390.15 1229.17L397.9 1232.88L397.9 1234.72L390.15 1231.02zM397.9 1232.88L407.4 1236.67L407.4 1238.52L397.9 1234.72zM406.47 1237.6L408.32 1237.6L412.12 1243.3L410.27 1243.3zM410.27 1243.3L412.12 1243.3L415.82 1250.8L413.97 1250.8zM414.9 1249.88L422.94 1257.58L422.94 1259.42L414.9 1251.72zM422.94 1257.58L432.5 1262.17L432.5 1264.02L422.94 1259.42zM432.5 1262.17L441.3 1266.28L441.3 1268.12L432.5 1264.02zM441.3 1266.28L447.6 1271.88L447.6 1273.72L441.3 1268.12zM447.6 1271.88L455.73 1272.67L455.73 1274.52L447.6 1273.72zM455.73 1272.67L467.5 1274.48L467.5 1276.33L455.73 1274.52zM466.57 1275.4L468.43 1275.4L475.93 1284.2L474.07 1284.2zM475 1283.28L481 1283.58L481 1285.42L475 1285.12zM481 1283.58L488.52 1286.78L488.52 1288.62L481 1285.42zM488.52 1286.78L498.3 1296.48L498.3 1298.33L488.52 1288.62zM498.3 1296.48L509 1296.48L509 1298.33L498.3 1298.33zM509 1296.48L521.31 1299.98L521.31 1301.83L509 1298.33zM521.31 1299.98L528.5 1303.08L528.5 1304.92L521.31 1301.83zM528.5 1303.08L543.6 1303.08L543.6 1304.92L528.5 1304.92zM543.6 1303.08L554.1 1305.48L554.1 1307.33L543.6 1304.92zM554.1 1305.48L586.89 1313.08L586.89 1314.92L554.1 1307.33zM586.89 1313.08L619.68 1324.98L619.68 1326.83L586.89 1314.92zM619.68 1324.98L652.47 1329.38L652.47 1331.22L619.68 1326.83zM652.47 1329.38L685.26 1332.67L685.26 1334.52L652.47 1331.22zM685.26 1332.67L718.05 1334.88L718.05 1336.72L685.26 1334.52zM718.05 1334.88L750.84 1336.98L750.84 1338.83L718.05 1336.72zM750.84 1336.98L783.63 1338.28L783.63 1340.12L750.84 1338.83zM783.63 1338.28L816.42 1341.28L816.42 1343.12L783.63 1340.12zM816.42 1341.28L849.21 1343.48L849.21 1345.33L816.42 1343.12zM849.21 1343.48L882 1346.58L882 1348.42L849.21 1345.33zM882 1346.58L914.79 1351.08L914.79 1352.92L882 1348.42zM914.79 1351.08L947.58 1353.08L947.58 1354.92L914.79 1352.92zM947.58 1353.08L980.37 1355.58L980.37 1357.42L947.58 1354.92zM980.37 1355.58L1013.16 1357.88L1013.16 1359.72L980.37 1357.42zM1013.16 1357.88L1045.95 1359.08L1045.95 1360.92L1013.16 1359.72zM1045.95 1359.08L1078.74 1359.67L1078.74 1361.52L1045.95 1360.92zM1078.74 1359.67L1111.53 1359.67L1111.53 1361.52L1078.74 1361.52zM1111.53 1359.67L1144.32 1359.67L1144.32 1361.52L1111.53 1361.52zM1144.32 1359.67L1177.11 1359.67L1177.11 1361.52L1144.32 1361.52zM1177.11 1359.67L1209.9 1359.67L1209.9 1361.52L1177.11 1361.52zM1209.9 1359.67L1242.69 1359.67L1242.69 1361.52L1209.9 1361.52zM1242.69 1359.67L1275.48 1359.67L1275.48 1361.52L1242.69 1361.52zM1275.48 1359.67L1308.27 1359.67L1308.27 1361.52L1275.48 1361.52zM1308.27 1359.67L1341.06 1359.67L1341.06 1361.52L1308.27 1361.52zM1341.06 1359.67L1373.85 1359.67L1373.85 1361.52L1341.06 1361.52zM1373.85 1359.67L1406.64 1359.67L1406.64 1361.52L1373.85 1361.52zM1406.64 1359.67L1439.43 1359.67L1439.43 1361.52L1406.64 1361.52zM1439.43 1359.67L1472.22 1359.67L1472.22 1361.52L1439.43 1361.52zM1472.22 1359.67L1505.01 1359.67L1505.01 1361.52L1472.22 1361.52zM1505.01 1359.67L1537.8 1359.67L1537.8 1361.52L1505.01 1361.52zM1537.8 1359.67L1570.59 1359.67L1570.59 1361.52L1537.8 1361.52zM1570.59 1359.67L1603.38 1359.67L1603.38 1361.52L1570.59 1361.52zM1603.38 1359.67L1636.17 1359.67L1636.17 1361.52L1603.38 1361.52zM1636.17 1359.67L1668.96 1359.67L1668.96 1361.52L1636.17 1361.52zM1668.96 1359.67L1701.75 1359.67L1701.75 1361.52L1668.96 1361.52zM1701.75 1359.67L1734.54 1359.67L1734.54 1361.52L1701.75 1361.52zM1734.54 1359.67L1767.33 1359.67L1767.33 1361.52L1734.54 1361.52zM1767.33 1359.67L1800.12 1359.67L1800.12 1361.52L1767.33 1361.52zM1800.12 1359.67L1832.91 1359.67L1832.91 1361.52L1800.12 1361.52zM1832.91 1359.67L1859 1359.67L1859 1361.52L1832.91 1361.52z" fill="#ff2a2a"/>
<path d="M218.4 649.7h16.4v16.4h-16.4zM250.79 954.3h16.4v16.4h-16.4zM283.58 1056.5h16.4v16.4h-16.4zM316.37 1140.5h16.4v16.4h-16.4zM349.16 1170.9h16.4v16.4h-16.4zM381.95 1221.9h16.4v16.4h-16.4zM414.74 1250.3h16.4v16.4h-16.4zM447.53 1265.4h16.4v16.4h-16.4zM480.32 1279.5h16.4v16.4h-16.4zM513.11 1292.7h16.4v16.4h-16.4zM545.9 1298.2h16.4v16.4h-16.4zM578.69 1305.8h16.4v16.4h-16.4zM611.48 1317.7h16.4v16.4h-16.4zM644.27 1322.1h16.4v16.4h-16.4zM677.06 1325.4h16.4v16.4h-16.4zM709.85 1327.6h16.4v16.4h-16.4zM742.64 1329.7h16.4v16.4h-16.4zM775.43 1331h16.4v16.4h-16.4zM808.22 1334h16.4v16.4h-16.4zM841.01 1336.2h16.4v16.4h-16.4zM873.8 1339.3h16.4v16.4h-16.4zM906.59 1343.8h16.4v16.4h-16.4zM939.38 1345.8h16.4v16.4h-16.4zM972.17 1348.3h16.4v16.4h-16.4zM1004.96 1350.6h16.4v16.4h-16.4zM1037.75 1351.8h16.4v16.4h-16.4zM1070.54 1352.4h16.4v16.4h-16.4zM1103.33 1352.4h16.4v16.4h-16.4zM1136.12 1352.4h16.4v16.4h-16.4zM1168.91 1352.4h16.4v16.4h-16.4zM1201.7 1352.4h16.4v16.4h-16.4zM1234.49 1352.4h16.4v16.4h-16.4zM1267.28 1352.4h16.4v16.4h-16.4zM1300.07 1352.4h16.4v16.4h-16.4zM1332.86 1352.4h16.4v16.4h-16.4zM1365.65 1352.4h16.4v16.4h-16.4zM1398.44 1352.4h16.4v16.4h-16.4zM1431.23 1352.4h16.4v16.4h-16.4zM1464.02 1352.4h16.4v16.4h-16.4zM1496.81 1352.4h16.4v16.4h-16.4zM1529.6 1352.4h16.4v16.4h-16.4zM1562.39 1352.4h16.4v16.4h-16.4zM1595.18 1352.4h16.4v16.4h-16.4zM1627.97 1352.4h16.4v16.4h-16.4zM1660.76 1352.4h16.4v16.4h-16.4zM1693.55 1352.4h16.4v16.4h-16.4zM1726.34 1352.4h16.4v16.4h-16.4zM1759.13 1352.4h16.4v16.4h-16.4zM1791.92 1352.4h16.4v16.4h-16.4zM1824.71 1352.4h16.4v16.4h-16.4zM1850.8 1352.4h16.4v16.4h-16.4z" fill="#f00"/>
<path d="M225.67 225.9L227.52 225.9L235.53 347L233.67 347zM233.67 347L235.53 347L246.12 402.8L244.27 402.8zM244.27 402.8L246.12 402.8L252.43 431.7L250.57 431.7zM250.57 431.7L252.43 431.7L260.71 476.1L258.86 476.1zM258.86 476.1L260.71 476.1L264.93 494.6L263.07 494.6zM263.07 494.6L264.93 494.6L271.23 525.5L269.38 525.5zM269.38 525.5L271.23 525.5L281.32 576.5L279.47 576.5zM279.47 576.5L281.32 576.5L288.93 606L287.07 606zM287.07 606L288.93 606L292.7 619.6L290.85 619.6zM290.85 619.6L292.7 619.6L301.43 661L299.57 661zM299.57 661L301.43 661L311.53 705L309.68 705zM309.68 705L311.53 705L320.32 737L318.47 737zM318.47 737L320.32 737L326.29 756.8L324.44 756.8zM324.44 756.8L326.29 756.8L327.82 764L325.97 764zM325.97 764L327.82 764L335.43 784L333.57 784zM333.57 784L335.43 784L337.93 810.5L336.07 810.5zM336.07 810.5L337.93 810.5L341.73 840.6L339.88 840.6zM339.88 840.6L341.73 840.6L347.93 857L346.07 857zM346.07 857L347.93 857L354.23 865.8L352.38 865.8zM352.38 865.8L354.23 865.8L359.08 872.2L357.23 872.2zM357.23 872.2L359.08 872.2L364.32 879.6L362.47 879.6zM362.47 879.6L364.32 879.6L374.32 896L372.47 896zM372.47 896L374.32 896L386.93 922.4L385.07 922.4zM385.07 922.4L386.93 922.4L391.87 930.7L390.02 930.7zM390.02 930.7L391.87 930.7L424.66 1007.1L422.81 1007.1zM422.81 1007.1L424.66 1007.1L430.93 1014.3L429.07 1014.3zM429.07 1014.3L430.93 1014.3L434.73 1020.6L432.88 1020.6zM432.88 1020.6L434.73 1020.6L439.73 1035.7L437.88 1035.7zM437.88 1035.7L439.73 1035.7L446.03 1049.5L444.18 1049.5zM444.18 1049.5L446.03 1049.5L452.32 1060.8L450.47 1060.8zM450.47 1060.8L452.32 1060.8L457.45 1076.9L455.6 1076.9zM455.6 1076.9L457.45 1076.9L464.73 1087.7L462.88 1087.7zM462.88 1087.7L464.73 1087.7L473.53 1097.7L471.68 1097.7zM472.6 1096.78L481 1104.08L481 1105.92L472.6 1098.62zM480.07 1105L481.93 1105L490.24 1113.7L488.39 1113.7zM488.39 1113.7L490.24 1113.7L493.62 1120.3L491.77 1120.3zM491.77 1120.3L493.62 1120.3L498.62 1133L496.77 1133zM496.77 1133L498.62 1133L504.32 1145.5L502.47 1145.5zM502.47 1145.5L504.32 1145.5L511.23 1158L509.38 1158zM510.3 1157.08L515.3 1160.88L515.3 1162.72L510.3 1158.92zM515.3 1160.88L522.11 1163.08L522.11 1164.92L515.3 1162.72zM522.11 1163.08L533 1169.67L533 1171.52L522.11 1164.92zM532.08 1170.6L533.92 1170.6L541.42 1178.2L539.58 1178.2zM539.58 1178.2L541.42 1178.2L548.92 1190.7L547.08 1190.7zM547.08 1190.7L548.92 1190.7L551.42 1193.3L549.58 1193.3zM549.58 1193.3L551.42 1193.3L555.82 1203.2L553.97 1203.2zM554.9 1202.28L565.6 1209.98L565.6 1211.83L554.9 1204.12zM565.6 1209.98L571.9 1211.88L571.9 1213.72L565.6 1211.83zM570.98 1212.8L572.82 1212.8L576.62 1221L574.78 1221zM574.78 1221L576.62 1221L582.92 1228.5L581.08 1228.5zM581.08 1228.5L582.92 1228.5L588.61 1235.5L586.76 1235.5zM587.69 1234.58L598.3 1238.88L598.3 1240.72L587.69 1236.42zM598.3 1238.88L604.6 1242.08L604.6 1243.92L598.3 1240.72zM604.6 1242.08L613.4 1242.67L613.4 1244.52L604.6 1243.92zM613.4 1242.67L620.48 1245.38L620.48 1247.22L613.4 1244.52zM620.48 1245.38L631 1248.28L631 1250.12L620.48 1247.22zM631 1248.28L637.3 1250.78L637.3 1252.62L631 1250.12zM637.3 1250.78L646 1251.48L646 1253.33L637.3 1252.62zM646 1251.48L653.27 1254.08L653.27 1255.92L646 1253.33zM653.27 1254.08L662.4 1255.08L662.4 1256.92L653.27 1255.92zM662.4 1255.08L673.7 1255.08L673.7 1256.92L662.4 1256.92zM673.7 1255.08L678.8 1257.67L678.8 1259.52L673.7 1256.92zM678.8 1257.67L686.06 1258.48L686.06 1260.33L678.8 1259.52zM686.06 1258.48L718.85 1267.28L718.85 1269.12L686.06 1260.33zM718.85 1267.28L751.64 1280.28L751.64 1282.12L718.85 1269.12zM751.64 1280.28L784.43 1288.88L784.43 1290.72L751.64 1282.12zM784.43 1288.88L817.22 1301.98L817.22 1303.83L784.43 1290.72zM817.22 1301.98L850.01 1310.48L850.01 1312.33L817.22 1303.83zM850.01 1310.48L882.8 1312.78L882.8 1314.62L850.01 1312.33zM882.8 1312.78L915.59 1315.08L915.59 1316.92L882.8 1314.62zM915.59 1315.08L948.38 1317.08L948.38 1318.92L915.59 1316.92zM948.38 1317.08L981.17 1317.08L981.17 1318.92L948.38 1318.92zM981.17 1317.08L1013.96 1317.08L1013.96 1318.92L981.17 1318.92zM1013.96 1317.08L1046.75 1317.08L1046.75 1318.92L1013.96 1318.92zM1046.75 1317.08L1079.54 1317.08L1079.54 1318.92L1046.75 1318.92zM1079.54 1317.08L1112.33 1319.28L1112.33 1321.12L1079.54 1318.92zM1112.33 1319.28L1145.12 1319.28L1145.12 1321.12L1112.33 1321.12zM1145.12 1319.28L1177.91 1319.28L1177.91 1321.12L1145.12 1321.12zM1177.91 1319.28L1210.7 1319.28L1210.7 1321.12L1177.91 1321.12zM1210.7 1319.28L1243.49 1319.28L1243.49 1321.12L1210.7 1321.12zM1243.49 1319.28L1276.28 1319.28L1276.28 1321.12L1243.49 1321.12zM1276.28 1319.28L1309.07 1319.28L1309.07 1321.12L1276.28 1321.12zM1309.07 1319.28L1341.86 1319.28L1341.86 1321.12L1309.07 1321.12zM1341.86 1319.28L1374.65 1319.28L1374.65 1321.12L1341.86 1321.12zM1374.65 1319.28L1407.44 1319.28L1407.44 1321.12L1374.65 1321.12zM1407.44 1319.28L1440.23 1319.28L1440.23 1321.12L1407.44 1321.12zM1440.23 1319.28L1473.02 1321.08L1473.02 1322.92L1440.23 1321.12zM1473.02 1321.08L1505.81 1321.08L1505.81 1322.92L1473.02 1322.92zM1505.81 1321.08L1538.6 1321.08L1538.6 1322.92L1505.81 1322.92zM1538.6 1321.08L1571.39 1321.08L1571.39 1322.92L1538.6 1322.92zM1571.39 1321.08L1604.18 1321.08L1604.18 1322.92L1571.39 1322.92zM1604.18 1321.08L1636.97 1321.08L1636.97 1322.92L1604.18 1322.92zM1636.97 1321.08L1669.76 1321.08L1669.76 1322.92L1636.97 1322.92zM1669.76 1321.08L1702.55 1321.08L1702.55 1322.92L1669.76 1322.92zM1702.55 1321.08L1735.34 1323.48L1735.34 1325.33L1702.55 1322.92zM1735.34 1323.48L1768.13 1323.48L1768.13 1325.33L1735.34 1325.33zM1768.13 1323.48L1800.92 1323.48L1800.92 1325.33L1768.13 1325.33zM1800.92 1323.48L1833.71 1326.08L1833.71 1327.92L1800.92 1325.33zM1833.71 1326.08L1859 1326.08L1859 1327.92L1833.71 1327.92z" fill="#ff2a2a"/>
<path d="M225.5 213.3L227.7 213.3L228.9 215.5L231 219.8L233.1 222L235.2 226.2L236.7 228.7L237 232.7L216.2 232.7L216.5 228.7L218 226.2L220.1 222L222.2 219.8L224.3 215.5zM258.69 463.5L260.89 463.5L262.09 465.7L264.19 470L266.29 472.2L268.39 476.4L269.89 478.9L270.19 482.9L249.39 482.9L249.69 478.9L251.19 476.4L253.29 472.2L255.39 470L257.49 465.7zM290.68 607L292.88 607L294.08 609.2L296.18 613.5L298.28 615.7L300.38 619.9L301.88 622.4L302.18 626.4L281.38 626.4L281.68 622.4L283.18 619.9L285.28 615.7L287.38 613.5L289.48 609.2zM324.27 744.2L326.47 744.2L327.67 746.4L329.77 750.7L331.87 752.9L333.97 757.1L335.47 759.6L335.77 763.6L314.97 763.6L315.27 759.6L316.77 757.1L318.87 752.9L320.97 750.7L323.07 746.4zM357.06 859.6L359.26 859.6L360.46 861.8L362.56 866.1L364.66 868.3L366.76 872.5L368.26 875L368.56 879L347.76 879L348.06 875L349.56 872.5L351.66 868.3L353.76 866.1L355.86 861.8zM389.85 918.1L392.05 918.1L393.25 920.3L395.35 924.6L397.45 926.8L399.55 931L401.05 933.5L401.35 937.5L380.55 937.5L380.85 933.5L382.35 931L384.45 926.8L386.55 924.6L388.65 920.3zM422.64 994.5L424.84 994.5L426.04 996.7L428.14 1001L430.24 1003.2L432.34 1007.4L433.84 1009.9L434.14 1013.9L413.34 1013.9L413.64 1009.9L415.14 1007.4L417.24 1003.2L419.34 1001L421.44 996.7zM455.43 1064.3L457.63 1064.3L458.83 1066.5L460.93 1070.8L463.03 1073L465.13 1077.2L466.63 1079.7L466.93 1083.7L446.13 1083.7L446.43 1079.7L447.93 1077.2L450.03 1073L452.13 1070.8L454.23 1066.5zM488.22 1101.1L490.42 1101.1L491.62 1103.3L493.72 1107.6L495.82 1109.8L497.92 1114L499.42 1116.5L499.72 1120.5L478.92 1120.5L479.22 1116.5L480.72 1114L482.82 1109.8L484.92 1107.6L487.02 1103.3zM521.01 1151.4L523.21 1151.4L524.41 1153.6L526.51 1157.9L528.61 1160.1L530.71 1164.3L532.21 1166.8L532.51 1170.8L511.71 1170.8L512.01 1166.8L513.51 1164.3L515.61 1160.1L517.71 1157.9L519.81 1153.6zM553.8 1190.6L556 1190.6L557.2 1192.8L559.3 1197.1L561.4 1199.3L563.5 1203.5L565 1206L565.3 1210L544.5 1210L544.8 1206L546.3 1203.5L548.4 1199.3L550.5 1197.1L552.6 1192.8zM586.59 1222.9L588.79 1222.9L589.99 1225.1L592.09 1229.4L594.19 1231.6L596.29 1235.8L597.79 1238.3L598.09 1242.3L577.29 1242.3L577.59 1238.3L579.09 1235.8L581.19 1231.6L583.29 1229.4L585.39 1225.1zM619.38 1233.7L621.58 1233.7L622.78 1235.9L624.88 1240.2L626.98 1242.4L629.08 1246.6L630.58 1249.1L630.88 1253.1L610.08 1253.1L610.38 1249.1L611.88 1246.6L613.98 1242.4L616.08 1240.2L618.18 1235.9zM652.17 1242.4L654.37 1242.4L655.57 1244.6L657.67 1248.9L659.77 1251.1L661.87 1255.3L663.37 1257.8L663.67 1261.8L642.87 1261.8L643.17 1257.8L644.67 1255.3L646.77 1251.1L648.87 1248.9L650.97 1244.6zM684.96 1246.8L687.16 1246.8L688.36 1249L690.46 1253.3L692.56 1255.5L694.66 1259.7L696.16 1262.2L696.46 1266.2L675.66 1266.2L675.96 1262.2L677.46 1259.7L679.56 1255.5L681.66 1253.3L683.76 1249zM717.75 1255.6L719.95 1255.6L721.15 1257.8L723.25 1262.1L725.35 1264.3L727.45 1268.5L728.95 1271L729.25 1275L708.45 1275L708.75 1271L710.25 1268.5L712.35 1264.3L714.45 1262.1L716.55 1257.8zM750.54 1268.6L752.74 1268.6L753.94 1270.8L756.04 1275.1L758.14 1277.3L760.24 1281.5L761.74 1284L762.04 1288L741.24 1288L741.54 1284L743.04 1281.5L745.14 1277.3L747.24 1275.1L749.34 1270.8zM783.33 1277.2L785.53 1277.2L786.73 1279.4L788.83 1283.7L790.93 1285.9L793.03 1290.1L794.53 1292.6L794.83 1296.6L774.03 1296.6L774.33 1292.6L775.83 1290.1L777.93 1285.9L780.03 1283.7L782.13 1279.4zM816.12 1290.3L818.32 1290.3L819.52 1292.5L821.62 1296.8L823.72 1299L825.82 1303.2L827.32 1305.7L827.62 1309.7L806.82 1309.7L807.12 1305.7L808.62 1303.2L810.72 1299L812.82 1296.8L814.92 1292.5zM848.91 1298.8L851.11 1298.8L852.31 1301L854.41 1305.3L856.51 1307.5L858.61 1311.7L860.11 1314.2L860.41 1318.2L839.61 1318.2L839.91 1314.2L841.41 1311.7L843.51 1307.5L845.61 1305.3L847.71 1301zM881.7 1301.1L883.9 1301.1L885.1 1303.3L887.2 1307.6L889.3 1309.8L891.4 1314L892.9 1316.5L893.2 1320.5L872.4 1320.5L872.7 1316.5L874.2 1314L876.3 1309.8L878.4 1307.6L880.5 1303.3zM914.49 1303.4L916.69 1303.4L917.89 1305.6L919.99 1309.9L922.09 1312.1L924.19 1316.3L925.69 1318.8L925.99 1322.8L905.19 1322.8L905.49 1318.8L906.99 1316.3L909.09 1312.1L911.19 1309.9L913.29 1305.6zM947.28 1305.4L949.48 1305.4L950.68 1307.6L952.78 1311.9L954.88 1314.1L956.98 1318.3L958.48 1320.8L958.78 1324.8L937.98 1324.8L938.28 1320.8L939.78 1318.3L941.88 1314.1L943.98 1311.9L946.08 1307.6zM980.07 1305.4L982.27 1305.4L983.47 1307.6L985.57 1311.9L987.67 1314.1L989.77 1318.3L991.27 1320.8L991.57 1324.8L970.77 1324.8L971.07 1320.8L972.57 1318.3L974.67 1314.1L976.77 1311.9L978.87 1307.6zM1012.86 1305.4L1015.06 1305.4L1016.26 1307.6L1018.36 1311.9L1020.46 1314.1L1022.56 1318.3L1024.06 1320.8L1024.36 1324.8L1003.56 1324.8L1003.86 1320.8L1005.36 1318.3L1007.46 1314.1L1009.56 1311.9L1011.66 1307.6zM1045.65 1305.4L1047.85 1305.4L1049.05 1307.6L1051.15 1311.9L1053.25 1314.1L1055.35 1318.3L1056.85 1320.8L1057.15 1324.8L1036.35 1324.8L1036.65 1320.8L1038.15 1318.3L1040.25 1314.1L1042.35 1311.9L1044.45 1307.6zM1078.44 1305.4L1080.64 1305.4L1081.84 1307.6L1083.94 1311.9L1086.04 1314.1L1088.14 1318.3L1089.64 1320.8L1089.94 1324.8L1069.14 1324.8L1069.44 1320.8L1070.94 1318.3L1073.04 1314.1L1075.14 1311.9L1077.24 1307.6zM1111.23 1307.6L1113.43 1307.6L1114.63 1309.8L1116.73 1314.1L1118.83 1316.3L1120.93 1320.5L1122.43 1323L1122.73 1327L1101.93 1327L1102.23 1323L1103.73 1320.5L1105.83 1316.3L1107.93 1314.1L1110.03 1309.8zM1144.02 1307.6L1146.22 1307.6L1147.42 1309.8L1149.52 1314.1L1151.62 1316.3L1153.72 1320.5L1155.22 1323L1155.52 1327L1134.72 1327L1135.02 1323L1136.52 1320.5L1138.62 1316.3L1140.72 1314.1L1142.82 1309.8zM1176.81 1307.6L1179.01 1307.6L1180.21 1309.8L1182.31 1314.1L1184.41 1316.3L1186.51 1320.5L1188.01 1323L1188.31 1327L1167.51 1327L1167.81 1323L1169.31 1320.5L1171.41 1316.3L1173.51 1314.1L1175.61 1309.8zM1209.6 1307.6L1211.8 1307.6L1213 1309.8L1215.1 1314.1L1217.2 1316.3L1219.3 1320.5L1220.8 1323L1221.1 1327L1200.3 1327L1200.6 1323L1202.1 1320.5L1204.2 1316.3L1206.3 1314.1L1208.4 1309.8zM1242.39 1307.6L1244.59 1307.6L1245.79 1309.8L1247.89 1314.1L1249.99 1316.3L1252.09 1320.5L1253.59 1323L1253.89 1327L1233.09 1327L1233.39 1323L1234.89 1320.5L1236.99 1316.3L1239.09 1314.1L1241.19 1309.8zM1275.18 1307.6L1277.38 1307.6L1278.58 1309.8L1280.68 1314.1L1282.78 1316.3L1284.88 1320.5L1286.38 1323L1286.68 1327L1265.88 1327L1266.18 1323L1267.68 1320.5L1269.78 1316.3L1271.88 1314.1L1273.98 1309.8zM1307.97 1307.6L1310.17 1307.6L1311.37 1309.8L1313.47 1314.1L1315.57 1316.3L1317.67 1320.5L1319.17 1323L1319.47 1327L1298.67 1327L1298.97 1323L1300.47 1320.5L1302.57 1316.3L1304.67 1314.1L1306.77 1309.8zM1340.76 1307.6L1342.96 1307.6L1344.16 1309.8L1346.26 1314.1L1348.36 1316.3L1350.46 1320.5L1351.96 1323L1352.26 1327L1331.46 1327L1331.76 1323L1333.26 1320.5L1335.36 1316.3L1337.46 1314.1L1339.56 1309.8zM1373.55 1307.6L1375.75 1307.6L1376.95 1309.8L1379.05 1314.1L1381.15 1316.3L1383.25 1320.5L1384.75 1323L1385.05 1327L1364.25 1327L1364.55 1323L1366.05 1320.5L1368.15 1316.3L1370.25 1314.1L1372.35 1309.8zM1406.34 1307.6L1408.54 1307.6L1409.74 1309.8L1411.84 1314.1L1413.94 1316.3L1416.04 1320.5L1417.54 1323L1417.84 1327L1397.04 1327L1397.34 1323L1398.84 1320.5L1400.94 1316.3L1403.04 1314.1L1405.14 1309.8zM1439.13 1307.6L1441.33 1307.6L1442.53 1309.8L1444.63 1314.1L1446.73 1316.3L1448.83 1320.5L1450.33 1323L1450.63 1327L1429.83 1327L1430.13 1323L1431.63 1320.5L1433.73 1316.3L1435.83 1314.1L1437.93 1309.8zM1471.92 1309.4L1474.12 1309.4L1475.32 1311.6L1477.42 1315.9L1479.52 1318.1L1481.62 1322.3L1483.12 1324.8L1483.42 1328.8L1462.62 1328.8L1462.92 1324.8L1464.42 1322.3L1466.52 1318.1L1468.62 1315.9L1470.72 1311.6zM1504.71 1309.4L1506.91 1309.4L1508.11 1311.6L1510.21 1315.9L1512.31 1318.1L1514.41 1322.3L1515.91 1324.8L1516.21 1328.8L1495.41 1328.8L1495.71 1324.8L1497.21 1322.3L1499.31 1318.1L1501.41 1315.9L1503.51 1311.6zM1537.5 1309.4L1539.7 1309.4L1540.9 1311.6L1543 1315.9L1545.1 1318.1L1547.2 1322.3L1548.7 1324.8L1549 1328.8L1528.2 1328.8L1528.5 1324.8L1530 1322.3L1532.1 1318.1L1534.2 1315.9L1536.3 1311.6zM1570.29 1309.4L1572.49 1309.4L1573.69 1311.6L1575.79 1315.9L1577.89 1318.1L1579.99 1322.3L1581.49 1324.8L1581.79 1328.8L1560.99 1328.8L1561.29 1324.8L1562.79 1322.3L1564.89 1318.1L1566.99 1315.9L1569.09 1311.6zM1603.08 1309.4L1605.28 1309.4L1606.48 1311.6L1608.58 1315.9L1610.68 1318.1L1612.78 1322.3L1614.28 1324.8L1614.58 1328.8L1593.78 1328.8L1594.08 1324.8L1595.58 1322.3L1597.68 1318.1L1599.78 1315.9L1601.88 1311.6zM1635.87 1309.4L1638.07 1309.4L1639.27 1311.6L1641.37 1315.9L1643.47 1318.1L1645.57 1322.3L1647.07 1324.8L1647.37 1328.8L1626.57 1328.8L1626.87 1324.8L1628.37 1322.3L1630.47 1318.1L1632.57 1315.9L1634.67 1311.6zM1668.66 1309.4L1670.86 1309.4L1672.06 1311.6L1674.16 1315.9L1676.26 1318.1L1678.36 1322.3L1679.86 1324.8L1680.16 1328.8L1659.36 1328.8L1659.66 1324.8L1661.16 1322.3L1663.26 1318.1L1665.36 1315.9L1667.46 1311.6zM1701.45 1309.4L1703.65 1309.4L1704.85 1311.6L1706.95 1315.9L1709.05 1318.1L1711.15 1322.3L1712.65 1324.8L1712.95 1328.8L1692.15 1328.8L1692.45 1324.8L1693.95 1322.3L1696.05 1318.1L1698.15 1315.9L1700.25 1311.6zM1734.24 1311.8L1736.44 1311.8L1737.64 1314L1739.74 1318.3L1741.84 1320.5L1743.94 1324.7L1745.44 1327.2L1745.74 1331.2L1724.94 1331.2L1725.24 1327.2L1726.74 1324.7L1728.84 1320.5L1730.94 1318.3L1733.04 1314zM1767.03 1311.8L1769.23 1311.8L1770.43 1314L1772.53 1318.3L1774.63 1320.5L1776.73 1324.7L1778.23 1327.2L1778.53 1331.2L1757.73 1331.2L1758.03 1327.2L1759.53 1324.7L1761.63 1320.5L1763.73 1318.3L1765.83 1314zM1799.82 1311.8L1802.02 1311.8L1803.22 1314L1805.32 1318.3L1807.42 1320.5L1809.52 1324.7L1811.02 1327.2L1811.32 1331.2L1790.52 1331.2L1790.82 1327.2L1792.32 1324.7L1794.42 1320.5L1796.52 1318.3L1798.62 1314zM1832.61 1314.4L1834.81 1314.4L1836.01 1316.6L1838.11 1320.9L1840.21 1323.1L1842.31 1327.3L1843.81 1329.8L1844.11 1333.8L1823.31 1333.8L1823.61 1329.8L1825.11 1327.3L1827.21 1323.1L1829.31 1320.9L1831.41 1316.6zM1857.9 1314.4L1860.1 1314.4L1861.3 1316.6L1863.4 1320.9L1865.5 1323.1L1867.6 1327.3L1869.1 1329.8L1869.4 1333.8L1848.6 1333.8L1848.9 1329.8L1850.4 1327.3L1852.5 1323.1L1854.6 1320.9L1856.7 1316.6z" fill="#f00"/>
</g>
<g stroke="#000" stroke-width="4.4" fill="none">
<path d="M215.8 54.2H1861.3"/>
<path d="M215.8 1377.1H1861.3"/>
<path d="M218 52V1381.1"/>
<path d="M218 201.89h25.7M218 348.18h25.7M218 495.77h25.7M218 641.66h25.7M218 789.64h25.7M218 935.43h25.7M218 1083.52h25.7M218 1229.21h25.7M382.75 1377.1v-25.7M545.9 1377.1v-25.7M709.05 1377.1v-25.7M873.5 1377.1v-25.7M1038.15 1377.1v-25.7M1200.6 1377.1v-25.7M1365.65 1377.1v-25.7M1528.6 1377.1v-25.7M1694.05 1377.1v-25.7"/>
</g>
<g stroke="#f00" stroke-width="4.4" fill="none">
<path d="M1857.5 52V1381.1"/>
<path d="M1857.5 54.2h-26.2M1857.5 317.38h-26.2M1857.5 582.76h-26.2M1857.5 847.94h-26.2M1857.5 1111.52h-26.2M1857.5 1377.1h-26.2"/>
</g>
<g font-family="'Liberation Serif','Times New Roman',Times,serif" font-size="54" fill="#000">
<text x="188.3" y="68.5" text-anchor="end">1.0</text>
<text x="188.3" y="215.49" text-anchor="end">0.9</text>
<text x="188.3" y="362.48" text-anchor="end">0.8</text>
<text x="188.3" y="509.47" text-anchor="end">0.7</text>
<text x="188.3" y="656.46" text-anchor="end">0.6</text>
<text x="188.3" y="803.44" text-anchor="end">0.5</text>
<text x="188.3" y="951.63" text-anchor="end">0.4</text>
<text x="188.3" y="1098.22" text-anchor="end">0.3</text>
<text x="188.3" y="1245.21" text-anchor="end">0.2</text>
<text x="188.3" y="1391.4" text-anchor="end">0.1</text>
<text x="205.1" y="1445.8" textLength="27" lengthAdjust="spacing">0</text>
<text x="338.45" y="1445.8" textLength="85.2" lengthAdjust="spacing">200</text>
<text x="505.4" y="1445.8" textLength="82.2" lengthAdjust="spacing">400</text>
<text x="669.35" y="1445.8" textLength="82.2" lengthAdjust="spacing">600</text>
<text x="833.3" y="1445.8" textLength="82.2" lengthAdjust="spacing">800</text>
<text x="983.1" y="1445.8" textLength="110.5" lengthAdjust="spacing">1000</text>
<text x="1147.05" y="1445.8" textLength="110.5" lengthAdjust="spacing">1200</text>
<text x="1311" y="1445.8" textLength="110.5" lengthAdjust="spacing">1400</text>
<text x="1474.95" y="1445.8" textLength="110.5" lengthAdjust="spacing">1600</text>
<text x="1638.9" y="1445.8" textLength="110.5" lengthAdjust="spacing">1800</text>
<text x="1799.55" y="1445.8" textLength="113.5" lengthAdjust="spacing">2000</text>
</g>
<g font-family="'Liberation Serif','Times New Roman',Times,serif" font-size="54" fill="#f00">
<text x="1885" y="68.6" textLength="69.3" lengthAdjust="spacing">2.5</text>
<text x="1885" y="333.78" textLength="69.3" lengthAdjust="spacing">2.0</text>
<text x="1887.4" y="599.76" textLength="66.6" lengthAdjust="spacing">1.5</text>
<text x="1887.4" y="863.34" textLength="66.6" lengthAdjust="spacing">1.0</text>
<text x="1885" y="1127.92" textLength="69.3" lengthAdjust="spacing">0.5</text>
<text x="1885" y="1390.8" textLength="69.3" lengthAdjust="spacing">0.0</text>
</g>
<g font-family="'Liberation Serif','Times New Roman',Times,serif" font-size="68" fill="#000">
<text x="1038.3" y="1558.4" text-anchor="middle" textLength="232" lengthAdjust="spacing">Iteration</text>
<text transform="translate(72.7 716.5) rotate(-90)" text-anchor="middle" textLength="382" lengthAdjust="spacing">Accuracy rate</text>
<text transform="translate(2030.3 705.6) rotate(-90)" text-anchor="middle" textLength="250" lengthAdjust="spacing">Loss rate</text>
</g>
<rect x="1244.7" y="202.9" width="575" height="221.8" fill="#fff" stroke="#000" stroke-width="2.2"/>
<g font-family="'Liberation Serif','Times New Roman',Times,serif" font-size="42" fill="#000">
<path d="M1259.4 233.5H1339.8" stroke="#000" stroke-width="1.9" fill="none"/>
<rect x="1285.35" y="219.55" width="26.1" height="26.1" fill="#000"/>
<text x="1359.08 1386.14 1400.89 1420.55 1432.86 1455.01 1467.32 1489.47 1511.62 1522.78 1539.42 1558.38 1570.26 1581.14 1600.53 1619.92 1639.3 1661.14 1675.69 1695.08 1714.46 1736.3 1745.78 1760.97 1781.2 1793.87" y="245.3">Training set accuracy rate</text>
<path d="M1259.4 288.1H1339.8" stroke="#000" stroke-width="1.9" fill="none"/>
<path d="M1299.2 267.1h2.4L1317.9 296.2v1.6h-35v-1.6z" fill="#000"/>
<text x="1359.08 1386.78 1406.91 1424.57 1437.17 1447.38 1463.95 1482.84 1494.66 1505.05 1524.36 1543.67 1562.98 1584.73 1599.23 1618.54 1637.85 1659.6 1671.59 1686.48 1706.32 1718.75" y="299.9">Test set accuracy rate</text>
<path d="M1259.4 342.5H1339.8" stroke="#f00" stroke-width="1.9" fill="none"/>
<rect x="1285.35" y="328.55" width="26.1" height="26.1" fill="#f00"/>
<text x="1359.08 1386.14 1400.89 1420.55 1432.86 1455.01 1467.32 1489.47 1511.62 1522.57 1539.35 1558.48 1570.46 1581.27 1593.69 1616.04 1633.44 1650.85 1661.39 1676.12 1695.76 1708.05" y="354.3">Training set loss rate</text>
<path d="M1259.4 396.9H1339.8" stroke="#f00" stroke-width="1.9" fill="none"/>
<path d="M1299.2 375.9h2.4L1317.9 405v1.6h-35v-1.6z" fill="#f00"/>
<text x="1359.08 1386.78 1406.91 1424.57 1437.17 1447.38 1463.95 1482.84 1494.66 1505.27 1517.68 1539.99 1557.37 1574.74 1585.29 1599.89 1619.34 1631.52" y="408.7">Test set loss rate</text>
</g>
</svg>
</body>
</html>
